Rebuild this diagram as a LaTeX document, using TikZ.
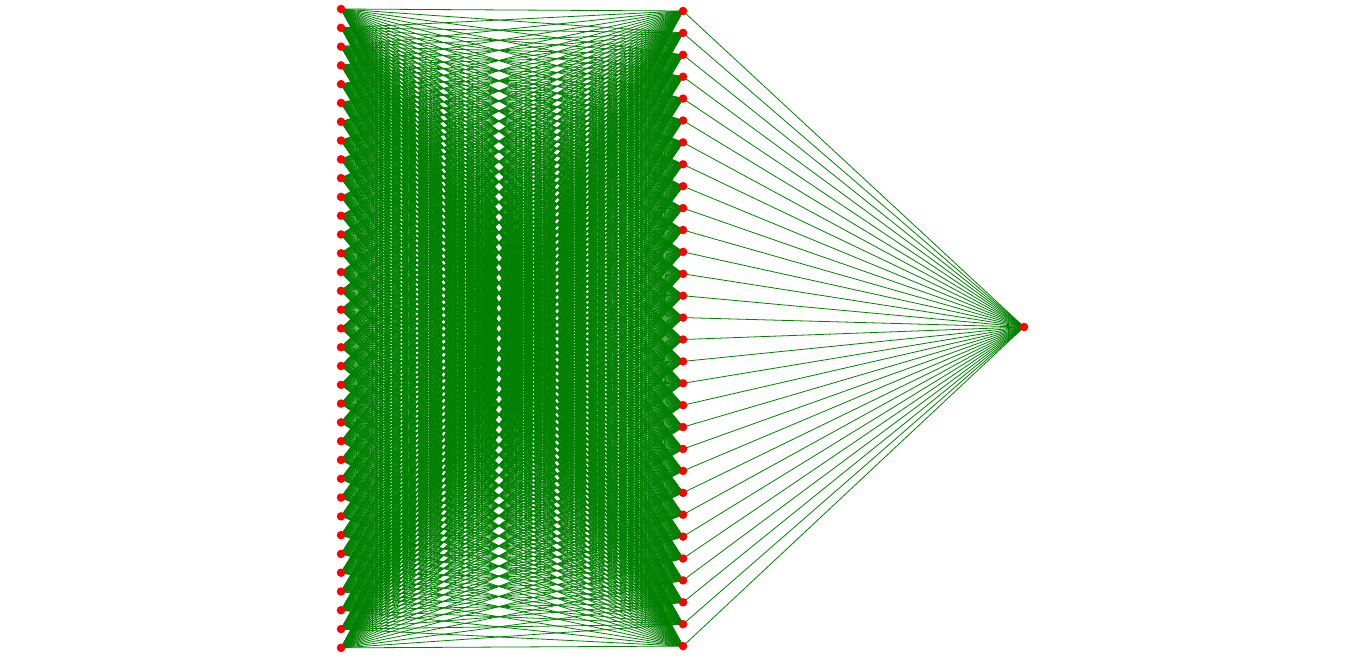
\documentclass[tikz,border=0pt]{standalone}
\usepackage{xcolor}
\usepackage{tikz}
\usetikzlibrary{backgrounds}
\definecolor{edgegrn}{RGB}{0,128,0}

\begin{document}
\begin{tikzpicture}[x=1pt,y=-1pt,
  neuron/.style={circle,fill=red,inner sep=0pt,minimum size=8.5pt},
  wire/.style={edgegrn,line width=0.8pt}]
  \useasboundingbox (0,0) rectangle (1366,657);
  % layers
  \foreach \i in {1,...,35}{\node[neuron] (in-\i) at (341,{9+(\i-1)*18.79}) {};}
  \foreach \j in {1,...,30}{\node[neuron] (hid-\j) at (683,{11+(\j-1)*21.9}) {};}
  \node[neuron] (out) at (1024,327) {};
  % connections
  \begin{scope}[on background layer]
    \foreach \i in {1,...,35}\foreach \j in {1,...,30}{\draw[wire] (in-\i.center) -- (hid-\j.center);}
    \foreach \j in {1,...,30}{\draw[wire] (hid-\j.center) -- (out.center);}
  \end{scope}
\end{tikzpicture}
\end{document}
